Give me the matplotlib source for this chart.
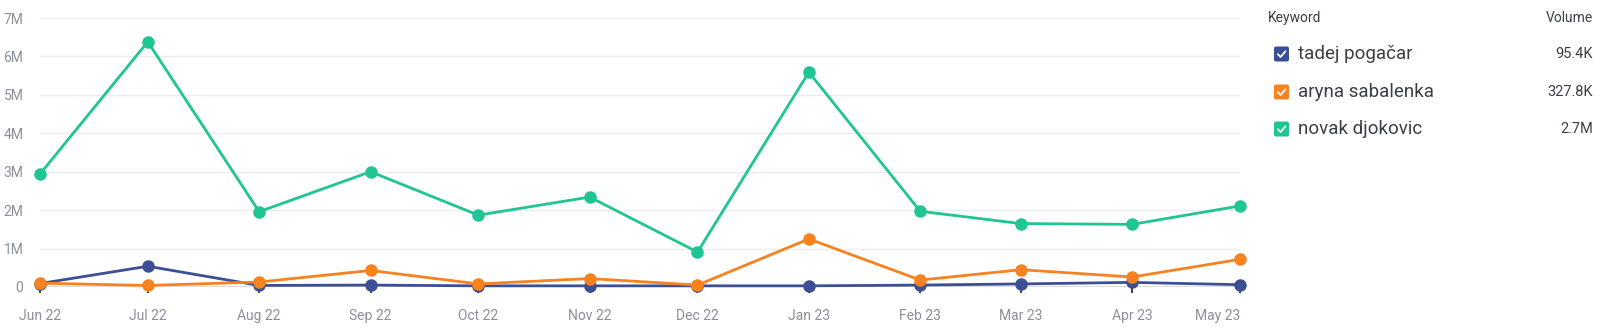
import matplotlib
matplotlib.use("Agg")
import matplotlib.pyplot as plt
import matplotlib.dates as mdates
from matplotlib.patches import FancyBboxPatch
import numpy as np

plt.rcParams['font.family'] = ['Roboto', 'DejaVu Sans']

months = ["2022-06-01", "2022-07-01", "2022-08-01", "2022-09-01", "2022-10-01", "2022-11-01",
          "2022-12-01", "2023-01-01", "2023-02-01", "2023-03-01", "2023-04-01", "2023-05-01"]
month_labels = ["Jun 22", "Jul 22", "Aug 22", "Sep 22", "Oct 22", "Nov 22",
                "Dec 22", "Jan 23", "Feb 23", "Mar 23", "Apr 23", "May 23"]

# monthly search volume, millions
tadej = [0.09, 0.54, 0.04, 0.05, 0.03, 0.03, 0.03, 0.03, 0.05, 0.08, 0.12, 0.06]
aryna = [0.10, 0.04, 0.13, 0.43, 0.08, 0.22, 0.05, 1.25, 0.18, 0.45, 0.26, 0.72]
novak = [2.94, 6.38, 1.96, 3.00, 1.87, 2.34, 0.91, 5.59, 1.97, 1.65, 1.63, 2.11]

keywords = ["tadej pogačar", "aryna sabalenka", "novak djokovic"]
volumes = ["95.4K", "327.8K", "2.7M"]
colors = ["#3c4f95", "#f7821f", "#1fc593"]
series = [tadej, aryna, novak]

y_ticks = [0, 1, 2, 3, 4, 5, 6, 7]
y_labels = ["0", "1M", "2M", "3M", "4M", "5M", "6M", "7M"]

W, H = 1600, 328
fig = plt.figure(figsize=(W / 100, H / 100), dpi=100)
ax = fig.add_axes([40 / W, 1 - 287 / H, 1200 / W, (287 - 18) / H])

dates = [np.datetime64(m) for m in months]
x = mdates.date2num(dates)

for vals, c in zip(series, colors):
    ax.plot(x, np.array(vals) * 1e6, color=c, lw=2.0, marker="o", ms=8,
            clip_on=False, zorder=3, solid_joinstyle="round")

ax.set_xlim(x[0], x[-1])
ax.set_ylim(0, 7e6)
ax.set_yticks([v * 1e6 for v in y_ticks])
ax.set_yticklabels(y_labels)
ax.set_xticks(x)
ax.set_xticklabels(month_labels)
ax.get_xticklabels()[-1].set_horizontalalignment("right")

ax.grid(axis="y", color="#ececec", lw=1)
ax.set_axisbelow(True)
for s in ax.spines.values():
    s.set_visible(False)
ax.axhline(0, color="#d5d5d5", lw=1.2, zorder=1)

ax.tick_params(axis="y", length=0, pad=12, labelsize=10, labelcolor="#8c9098")
ax.tick_params(axis="x", length=4, width=1.3, color="#333333", pad=12,
               labelsize=10, labelcolor="#8c9098", direction="out")

# keyword list on the right
lg = fig.add_axes([1240 / W, 0, 360 / W, 1])
lg.set_xlim(1240, 1600)
lg.set_ylim(H, 0)
lg.axis("off")
lg.text(1268, 18, "Keyword", fontsize=10, color="#3a3f47", va="center", ha="left")
lg.text(1593, 18, "Volume", fontsize=10, color="#3a3f47", va="center", ha="right")
rows_y = [54, 92, 129]
for yy, name, vol, c in zip(rows_y, keywords, volumes, colors):
    box = FancyBboxPatch((1274, yy - 7.5), 15, 15, boxstyle="round,pad=0,rounding_size=2",
                         fc=c, ec="none")
    lg.add_patch(box)
    lg.plot([1277.8, 1280.6, 1285.4], [yy + 0.2, yy + 3.0, yy - 2.7], color="white",
            lw=1.3, solid_capstyle="round", solid_joinstyle="round")
    lg.text(1298, yy, name, fontsize=13.5, color="#3a3f47", va="center", ha="left")
    lg.text(1593, yy, vol, fontsize=10.5, color="#3a3f47", va="center", ha="right")

fig.savefig("out.png", dpi=100, facecolor="white")
